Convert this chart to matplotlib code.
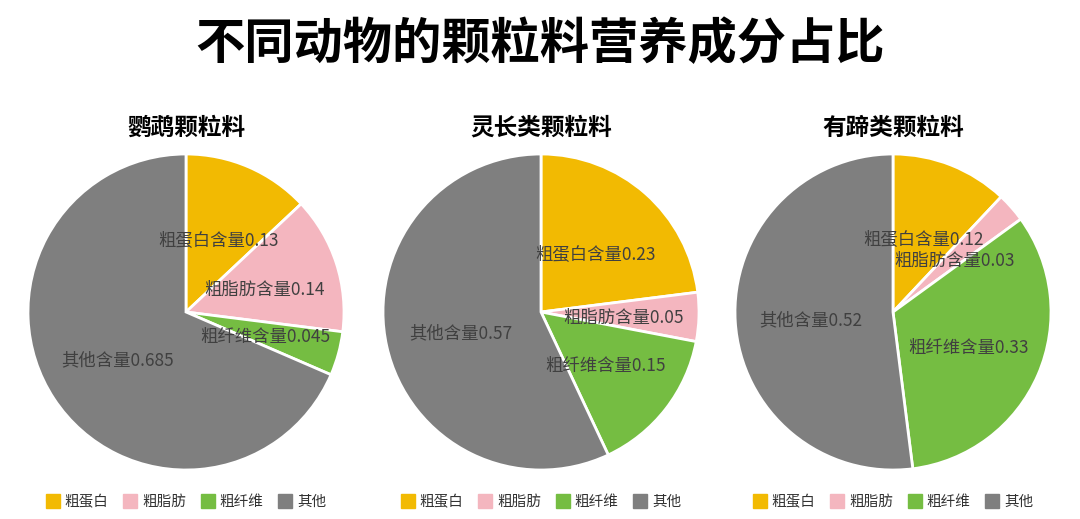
import matplotlib
matplotlib.use('Agg')
import matplotlib.pyplot as plt
from matplotlib.lines import Line2D

plt.rcParams['font.family'] = ['Noto Sans CJK SC', 'DejaVu Sans']

title = '不同动物的颗粒料营养成分占比'
groups = ['鹦鹉颗粒料', '灵长类颗粒料', '有蹄类颗粒料']
components = ['粗蛋白', '粗脂肪', '粗纤维', '其他']
label_names = ['粗蛋白含量', '粗脂肪含量', '粗纤维含量', '其他含量']
parrot = [0.13, 0.14, 0.045, 0.685]
primate = [0.23, 0.05, 0.15, 0.57]
ungulate = [0.12, 0.03, 0.33, 0.52]
colors = ['#F2BA02', '#F4B6BF', '#75BD42', '#7F7F7F']

values = [parrot, primate, ungulate]
centers_x = [186, 541, 893]

W, H = 1080, 519
fig = plt.figure(figsize=(W / 100, H / 100), dpi=100)
fig.text(0.5, 1 - 45 / H, title, ha='center', va='center',
         fontsize=35.5, fontweight='bold', color='black')

r = 158
for name, vals, cx in zip(groups, values, centers_x):
    ax = fig.add_axes([(cx - r) / W, (H - 312 - r) / H, 2 * r / W, 2 * r / H])
    labels = [f'{n}{v:g}' for n, v in zip(label_names, vals)]
    wedges, texts = ax.pie(vals, colors=colors, startangle=90, counterclock=False,
                           labels=labels, labeldistance=0.52,
                           wedgeprops=dict(edgecolor='white', linewidth=2),
                           textprops=dict(fontsize=12.5, color='#404040'))
    for t in texts:
        t.set_ha('center')
        t.set_va('center')
        x, y = t.get_position()
        t.set_position((x, y - 0.02))
    ax.set_aspect('equal')
    ax.set_xlim(-1.0, 1.0)
    ax.set_ylim(-1.0, 1.0)
    fig.text(cx / W, 1 - 128 / H, name, ha='center', va='center',
             fontsize=17, fontweight='bold', color='black')
    handles = [Line2D([], [], marker='s', linestyle='none', markersize=10,
                      markerfacecolor=c, markeredgecolor=c) for c in colors]
    ax.legend(handles, components, loc='center', ncol=4, frameon=False,
              bbox_to_anchor=(cx / W, 1 - 502 / H), bbox_transform=fig.transFigure,
              fontsize=10.5, handletextpad=0.3, columnspacing=1.0, handlelength=1.0,
              labelcolor='#333333')

fig.savefig('out.png', dpi=100)
